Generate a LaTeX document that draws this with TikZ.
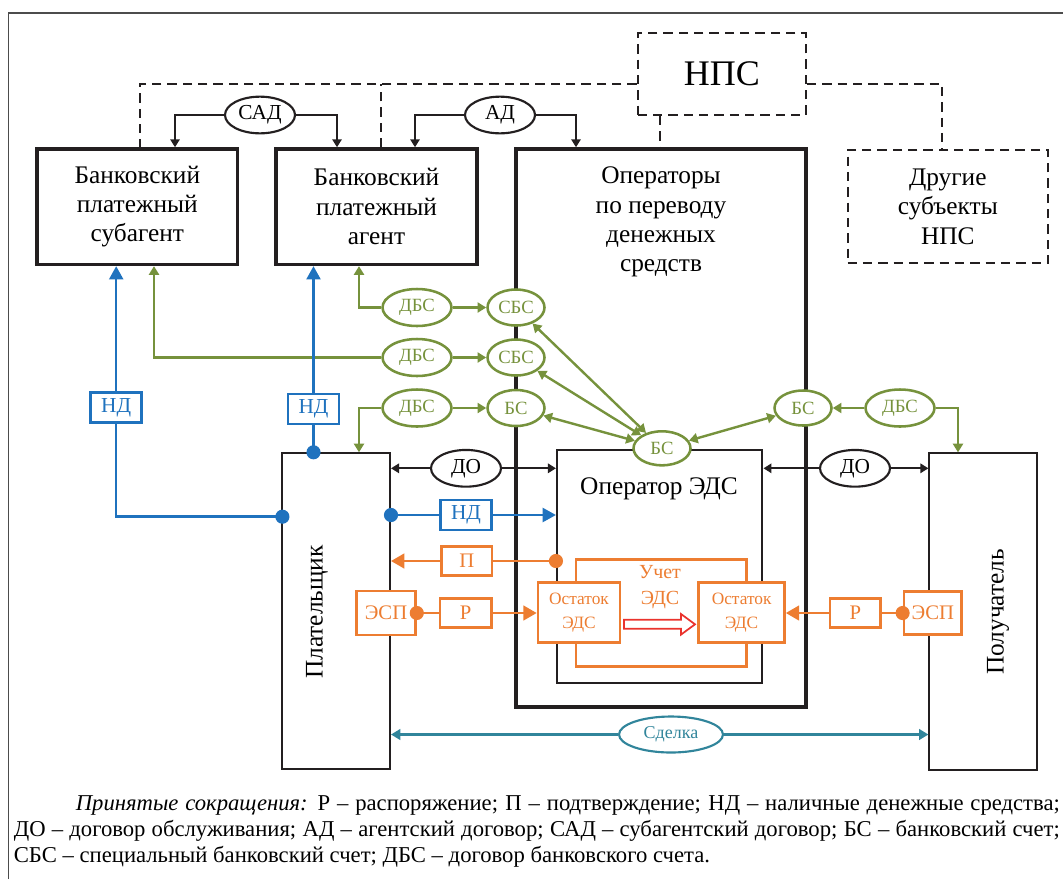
\documentclass[tikz,border=0pt]{standalone}
\usepackage{fontspec}
\setmainfont{Liberation Serif}
\usetikzlibrary{arrows.meta}
\usetikzlibrary{shapes.geometric}
\usetikzlibrary{calc}
\definecolor{ink}{RGB}{35,31,32}
\definecolor{grn}{RGB}{118,146,60}
\definecolor{blu}{RGB}{31,114,190}
\definecolor{org}{RGB}{237,125,49}
\definecolor{sea}{RGB}{49,133,155}
\definecolor{redarr}{RGB}{234,51,45}

\tikzset{
  sz/.style 2 args={minimum width=#1*0.75pt,minimum height=#2*0.75pt},
  bigfont/.style={font=\fontsize{19}{22}\selectfont,align=center},
  bigbox/.style={draw=ink,line width=2.7pt,fill=white,inner sep=0pt,bigfont},
  thinbox/.style={draw=ink,line width=1.5pt,fill=white,inner sep=0pt},
  dashbox/.style={draw=ink,line width=1.5pt,dash pattern=on 7pt off 4.5pt,inner sep=0pt,bigfont},
  oval/.style={ellipse,draw=ink,line width=1.6pt,fill=white,inner sep=0pt,sz={70}{36.7},font=\fontsize{16}{18}\selectfont},
  goval/.style={ellipse,draw=grn,text=grn,line width=1.9pt,fill=white,inner sep=0pt,font=\fontsize{14}{16}\selectfont},
  ndbox/.style={draw=blu,text=blu,line width=2pt,fill=white,inner sep=0pt,sz={51}{30},font=\fontsize{16}{18}\selectfont},
  obox/.style={draw=org,text=org,line width=2pt,fill=white,inner sep=0pt,font=\fontsize{15.5}{18}\selectfont,align=center},
  dline/.style={draw=ink,line width=1.5pt,dash pattern=on 7pt off 4.5pt},
  blk/.style={draw=ink,line width=1.6pt,-{Triangle[length=6pt,width=7pt]}},
  gline/.style={draw=grn,line width=1.8pt,-{Triangle[length=6.5pt,width=7.5pt]}},
  gboth/.style={draw=grn,line width=1.8pt,{Triangle[length=6.5pt,width=7.5pt]}-{Triangle[length=6.5pt,width=7.5pt]}},
  bline/.style={draw=blu,line width=1.9pt,-{Triangle[length=10pt,width=10.5pt]}},
  oline/.style={draw=org,line width=1.9pt,-{Triangle[length=10pt,width=11pt]}},
  tline/.style={draw=sea,line width=1.6pt,-{Triangle[length=7pt,width=8pt]}}
}

\begin{document}
\begin{tikzpicture}[x=0.75pt,y=-0.75pt]
\useasboundingbox (0,0) rectangle (1063,879);
% frame
\draw[gray!60!black,line width=1.3pt] (8.6,879) -- (8.6,12.7) -- (1063,12.7);

% top row
\node[dashbox,sz={168.3}{81.7},font=\fontsize{27}{30}\selectfont] (nps) at (721.9,74.2) {НПС};
\node[bigbox,sz={200.6}{115.3}] (subagent) at (137.3,206.7) {Банковский\\платежный\\субагент};
\node[bigbox,sz={201}{115.3}] (agent) at (376.5,206.7) {Банковский\\платежный\\агент};
\node[bigbox,sz={290}{557.7}] (oper) at (661,427.9) {};
\node[bigfont] (opertxt) at (661,222) {Операторы\\по переводу\\денежных\\средств};
\node[dashbox,sz={200.4}{113.6}] (other) at (947.8,206.5) {Другие\\субъекты\\НПС};

% dashed links to NPS
\coordinate (npsL) at ($(nps.west)+(0,10)$);
\coordinate (npsR) at ($(nps.east)+(0,10)$);
\coordinate (npsB) at ($(nps.south)+(-62.4,0)$);
\coordinate (agJ) at ($(agent.north)+(4,0)$);
\draw[dline] (npsL) -| ($(subagent.north)+(2.7,0)$);
\draw[dline] (agJ) -- (agJ |- npsL);
\draw[dline] (npsR) -| ($(other.north)+(-5.4,0)$);
\draw[dline] (npsB) -- (npsB |- oper.north);

% agent contracts
\node[oval] (sad) at (260,115) {САД};
\node[oval] (ad) at (500,115) {АД};
\draw[blk] (sad) -| ($(subagent.north)+(37.7,0)$);
\draw[blk] (sad) -| ($(agent.north)+(-39.5,0)$);
\draw[blk] (ad) -| ($(agent.north)+(38.5,0)$);
\draw[blk] (ad) -| ($(oper.north)+(-85,0)$);

% EDS operator
\node[thinbox,line width=1.6pt,sz={205.4}{232.7}] (eds) at (659.7,566.4) {};
\node[font=\fontsize{19}{22}\selectfont] (edstxt) at (659,489) {Оператор ЭДС};
\node[obox,sz={170.7}{107.4}] (acc) at (661.4,613) {};
\node[text=org,align=center,font=\fontsize{15}{20}\selectfont] (acctxt) at (660,587) {Учет\\ЭДС};
\node[obox,sz={82}{59.6},font=\fontsize{13}{18}\selectfont] (ost1) at (579,612.5) {Остаток\\ЭДС};
\node[obox,sz={85.8}{59.6},font=\fontsize{13}{18}\selectfont] (ost2) at (741.6,612.5) {Остаток\\ЭДС};
\draw[redarr,line width=1.3pt,fill=white] (624,619.8) -- (681,619.8) -- (681,614) -- (695,624.3)
  -- (681,634.6) -- (681,628.8) -- (624,628.8) -- cycle;

% payer and receiver
\node[thinbox,sz={107.6}{316}] (pl) at (336.2,611.3) {};
\node[rotate=90,font=\fontsize{19}{22}\selectfont] (pltxt) at (317,612) {Плательщик};
\node[thinbox,sz={108}{316.7}] (rc) at (983.4,611.7) {};
\node[rotate=90,font=\fontsize{19}{22}\selectfont] (rctxt) at (998,612) {Получатель};

% bank accounts
\node[goval,sz={69}{37}] (dbs1) at (417,307.5) {ДБС};
\node[goval,sz={69}{37}] (dbs2) at (417,357.5) {ДБС};
\node[goval,sz={69}{37}] (dbs3) at (417,408) {ДБС};
\node[goval,sz={57}{36}] (sbs1) at (516,307.5) {СБС};
\node[goval,sz={57}{36}] (sbs2) at (516,357.5) {СБС};
\node[goval,sz={57}{36}] (bs1) at (516,408) {БС};
\node[goval,sz={57}{34}] (bsc) at (662,448.3) {БС};
\node[goval,sz={57}{35}] (bsr) at (803,408) {БС};
\node[goval,sz={69}{37}] (dbsr) at (900,408) {ДБС};
\draw[gline] (dbs1) -| ($(agent.south)+(-17.5,0)$);
\draw[gline] (dbs1) -- (sbs1);
\draw[gline] (dbs2) -| ($(subagent.south)+(16.7,0)$);
\draw[gline] (dbs2) -- (sbs2);
\draw[gline] (dbs3) -| ($(pl.north)+(22.8,0)$);
\draw[gline] (dbs3) -- (bs1);
\draw[gboth] (bsc) -- (sbs1);
\draw[gboth] (bsc) -- (sbs2);
\draw[gboth] (bsc) -- (bs1);
\draw[gboth] (bsc) -- (bsr);
\draw[gline] (dbsr) -- (bsr);
\draw[gline] (dbsr) -| ($(rc.north)+(-25.4,0)$);

% service contracts
\node[oval] (do1) at (466,468.3) {ДО};
\node[oval] (do2) at (855,468.3) {ДО};
\draw[blk] (do1) -- (do1 -| pl.east);
\draw[blk] (do1) -- (do1 -| eds.west);
\draw[blk] (do2) -- (do2 -| eds.east);
\draw[blk] (do2) -- (do2 -| rc.west);

% cash
\node[ndbox] (nd1) at (116.2,407.3) {НД};
\node[ndbox] (nd2) at (313.5,409) {НД};
\node[ndbox] (nd3) at (466,515) {НД};
\coordinate (bd1) at (282.4,516.7);
\coordinate (bd2) at ($(pl.north)+(-22.7,0)$);
\coordinate (bd3) at (pl.east |- nd3);
\draw[bline] (bd1) -| (nd1) -- ($(subagent.south)+(-21.1,0)$);
\draw[bline] (bd2) -- (nd2) -- ($(agent.south)+(-63,0)$);
\draw[bline] (bd3) -- (nd3) -- (nd3 -| eds.west);
\fill[blu] (bd1) circle[radius=5.3pt] (bd2) circle[radius=5.3pt] (bd3) circle[radius=5.3pt];

% orders and confirmation
\node[obox,sz={50.3}{29}] (pbox) at (466.8,561) {П};
\node[obox,sz={51.4}{29.4}] (r1) at (465.7,613) {Р};
\node[obox,sz={50.7}{29.3}] (r2) at (855.3,613) {Р};
\node[obox,sz={58.9}{44}] (esp1) at (386,613) {ЭСП};
\node[obox,sz={57.7}{43.4}] (esp2) at (932.8,613) {ЭСП};
\coordinate (od1) at (eds.west |- pbox);
\draw[oline] (od1) -- (pbox) -- (pbox -| pl.east);
\draw[oline] (esp1.east) -- (r1) -- (r1 -| ost1.west);
\draw[oline] (esp2.west) -- (r2) -- (r2 -| ost2.east);
\fill[org] (od1) circle[radius=5.3pt] (esp1.east) circle[radius=5.3pt] (esp2.west) circle[radius=5.3pt];

% deal
\node[oval,draw=sea,text=sea,sz={104}{36},font=\fontsize{13.5}{16}\selectfont] (deal) at (671,734.5) {Сделка};
\draw[tline] (deal) -- (deal -| pl.east);
\draw[tline] (deal) -- (deal -| rc.west);

% legend
\node[anchor=north west,inner sep=0pt,text width=784.5pt,align=justify,font=\fontsize{17}{19.5}\selectfont] (legend) at (13.6,795)
  {\hspace*{46.5pt}\textit{Принятые сокращения:} Р – распоряжение; П – подтверждение; НД – наличные денежные средства;\linebreak
   ДО – договор обслуживания; АД – агентский договор; САД – субагентский договор; БС – банковский счет;\linebreak
   СБС – специальный банковский счет; ДБС – договор банковского счета.};
\end{tikzpicture}
\end{document}
